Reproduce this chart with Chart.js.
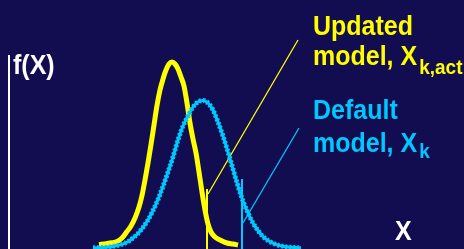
<!DOCTYPE html>
<html>
<head>
<meta charset="utf-8">
<script src="https://cdn.jsdelivr.net/npm/chart.js@4.4.1/dist/chart.umd.min.js"></script>
<style>
  html, body { margin: 0; padding: 0; background: #110d50; overflow: hidden; }
  canvas { display: block; }
</style>
</head>
<body>
<canvas id="myChart" width="464" height="249"></canvas>
<script>
// updated model (yellow) - x position and height above baseline
const updatedX = [99, 106, 112, 117, 122, 127, 131, 135, 139, 142, 145, 148, 151, 154, 157, 160, 163, 166, 169, 172,
                  175, 178, 181, 184, 187, 190, 193, 196, 199, 202, 205, 208, 211, 215, 220, 227, 233, 238];
const updatedY = [4.5, 5.3, 6.2, 7.5, 11, 17.5, 23, 31, 42, 53.5, 69, 86, 104.5, 124, 143.5, 159, 170, 179, 185, 187,
                  185, 180, 172, 163, 146, 126, 110, 96, 77, 57, 39, 25, 17, 12, 9, 6, 5, 4];

// default model (cyan)
const defaultX = [93, 98, 103, 108, 113, 118, 123, 128, 133, 138, 143, 148, 153, 158, 163, 168, 173, 178, 183, 188,
                  193, 198, 203, 208, 213, 218, 223, 228, 233, 238, 243, 248, 253, 258, 263, 268, 273, 278, 283, 288,
                  293, 298, 301];
const defaultY = [1.2, 1.3, 1.5, 1.9, 2.6, 3.6, 5.1, 7.3, 11, 15.5, 21.5, 29, 38.5, 49.5, 62.5, 77, 92, 109, 123, 133,
                  142, 147, 148.5, 146, 139, 127, 113, 97, 80, 63, 48, 36, 26, 18.5, 12.5, 8.5, 5.8, 3.9, 2.8, 2,
                  1.6, 1.3, 1.1];

// marker lines: X_k,act and X_k
const markerX = [207, 242];
const markerTop = [60, 70];

// pointer lines from marker to label
const pointerUpdX = [208, 298];
const pointerUpdY = [55, 209];
const pointerDefX = [243, 299];
const pointerDefY = [26, 121];

const YELLOW = '#ffff00';
const CYAN = '#00c8ff';
const FONT = '"Liberation Sans", Arial, sans-serif';

function pts(xs, ys) {
    return xs.map((x, i) => ({ x: x, y: ys[i] }));
}

const textPlugin = {
    id: 'texts',
    afterDraw(chart) {
        const ctx = chart.ctx;
        const area = chart.chartArea;
        ctx.save();

        // y axis line
        ctx.strokeStyle = '#ffffff';
        ctx.lineWidth = 2;
        ctx.beginPath();
        ctx.moveTo(9, 55);
        ctx.lineTo(9, area.bottom);
        ctx.stroke();

        ctx.textBaseline = 'alphabetic';
        ctx.textAlign = 'left';

        function label(main, sub, x, y, color, subDy) {
            ctx.save();
            ctx.translate(x, y);
            ctx.scale(1, 1.1);
            ctx.fillStyle = color;
            ctx.font = 'bold 25px ' + FONT;
            ctx.fillText(main, 0, 0);
            if (sub) {
                const w = ctx.measureText(main).width;
                ctx.font = 'bold 19px ' + FONT;
                ctx.fillText(sub, w + 2, subDy);
            }
            ctx.restore();
        }

        label('f(X)', null, 13, 74, '#ffffff', 0);
        label('X', null, 395, 240, '#ffffff', 0);
        label('Updated', null, 313, 35, YELLOW, 0);
        label('model, X', 'k,act', 313, 65, YELLOW, 8);
        label('Default', null, 313, 119, CYAN, 0);
        label('model, X', 'k', 313, 152, CYAN, 5);

        ctx.restore();
    }
};

const ctx = document.getElementById('myChart').getContext('2d');
new Chart(ctx, {
    type: 'scatter',
    data: {
        datasets: [
            {
                // default model, solid core
                data: pts(defaultX, defaultY),
                showLine: true,
                borderColor: CYAN,
                borderWidth: 3,
                pointRadius: 0,
                cubicInterpolationMode: 'monotone'
            },
            {
                // default model, stepped edge
                data: pts(defaultX, defaultY),
                showLine: true,
                borderColor: CYAN,
                borderWidth: 5,
                borderDash: [2, 2],
                pointRadius: 0,
                cubicInterpolationMode: 'monotone'
            },
            {
                data: pts(updatedX, updatedY),
                showLine: true,
                borderColor: YELLOW,
                borderWidth: 5,
                pointRadius: 0,
                cubicInterpolationMode: 'monotone'
            },
            {
                data: pts([markerX[0], markerX[0]], [0, markerTop[0]]),
                showLine: true,
                borderColor: YELLOW,
                borderWidth: 2,
                pointRadius: 0
            },
            {
                data: pts([markerX[1], markerX[1]], [0, markerTop[1]]),
                showLine: true,
                borderColor: CYAN,
                borderWidth: 2,
                pointRadius: 0
            },
            {
                data: pts(pointerUpdX, pointerUpdY),
                showLine: true,
                borderColor: YELLOW,
                borderWidth: 1.3,
                pointRadius: 0
            },
            {
                data: pts(pointerDefX, pointerDefY),
                showLine: true,
                borderColor: CYAN,
                borderWidth: 1.3,
                pointRadius: 0
            }
        ]
    },
    options: {
        responsive: false,
        animation: false,
        devicePixelRatio: 1,
        layout: { padding: 0 },
        plugins: {
            legend: { display: false },
            tooltip: { enabled: false }
        },
        scales: {
            x: { type: 'linear', min: 0, max: 464, display: false },
            y: { type: 'linear', min: 0, max: 249, display: false }
        }
    },
    plugins: [textPlugin]
});
</script>
</body>
</html>
